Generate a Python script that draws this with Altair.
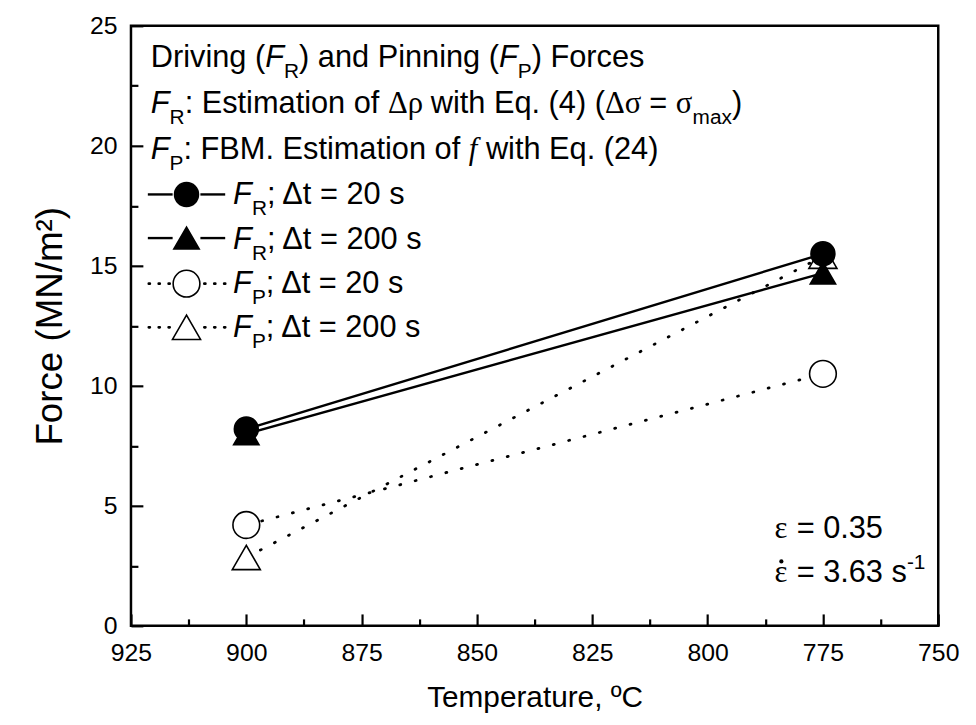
import altair as alt
import pandas as pd

# ---------------- data ----------------
temperature = [900, 775]
series_names = ["FR20", "FR200", "FP20", "FP200"]
force_fr_20 = [8.2, 15.5]
force_fr_200 = [8.0, 14.7]
force_fp_20 = [4.2, 10.5]
force_fp_200 = [2.85, 15.4]

x_major_ticks = [925, 900, 875, 850, 825, 800, 775, 750]
x_minor_ticks = [912.5, 887.5, 862.5, 837.5, 812.5, 787.5, 762.5]
y_major_ticks = [0, 5, 10, 15, 20, 25]
y_minor_ticks = [2.5, 7.5, 12.5, 17.5, 22.5]

x_title = "Temperature, ºC"
y_title = "Force (MN/m²)"

# text pieces: (text, style)
header_1 = [("Driving (", "n"), ("F", "i"), ("R", "sub"), (") and Pinning (", "n"),
            ("F", "i"), ("P", "sub"), (") Forces", "n")]
header_2 = [("F", "i"), ("R", "sub"), (": Estimation of ", "n"), ("Δρ", "g"),
            (" with Eq. (4) (", "n"), ("Δσ", "g"), (" = ", "n"), ("σ", "g"),
            ("max", "sub"), (")", "n")]
header_3 = [("F", "i"), ("P", "sub"), (": FBM. Estimation of ", "n"), ("f", "gi"),
            (" with Eq. (24)", "n")]
legend_rows = [
    [("F", "i"), ("R", "sub"), ("; Δt = 20 s", "n")],
    [("F", "i"), ("R", "sub"), ("; Δt = 200 s", "n")],
    [("F", "i"), ("P", "sub"), ("; Δt = 20 s", "n")],
    [("F", "i"), ("P", "sub"), ("; Δt = 200 s", "n")],
]
annot_1 = [("ε", "g"), (" = 0.35", "n")]
annot_2 = [("ε", "gdot"), (" = 3.63 s", "n"), ("-1", "sup")]

# ---------------- layout ----------------
W, H = 814, 605
SANS = "Liberation Sans, Arial, sans-serif"
SERIF = "Liberation Serif, Times New Roman, serif"
NARROW = "Liberation Sans Narrow, Arial Narrow, Liberation Sans, sans-serif"

MAIN = 31
SMALL = 21

SANS_W = {' ': .278, '(': .333, ')': .333, '.': .278, ':': .278, ';': .278, '=': .584,
          '-': .333, 'A': .667, 'B': .667, 'C': .722, 'D': .722, 'E': .667, 'F': .611,
          'M': .833, 'N': .722, 'P': .667, 'R': .722, 'a': .556, 'c': .5, 'd': .556,
          'e': .556, 'f': .278, 'g': .556, 'h': .556, 'i': .222, 'm': .833, 'n': .556,
          'o': .556, 'q': .556, 'r': .333, 's': .5, 't': .278, 'v': .5, 'w': .722,
          'x': .5, 'Δ': .668, 'ρ': .577, 'σ': .617, 'ε': .5}
SERIF_W = {'Δ': .612, 'ρ': .5, 'σ': .549, 'ε': .439, 'f': .278, ' ': .25}
for d in "0123456789":
    SANS_W[d] = .556

STYLE = {
    "n": ("sans", MAIN, 0),
    "i": ("sansi", MAIN, 0),
    "sub": ("sans", SMALL, 11),
    "sup": ("sans", SMALL, -13),
    "g": ("serif", MAIN, 0),
    "gdot": ("serif", MAIN, 0),
    "gi": ("serifi", MAIN, 0),
}

dot_rows = []


def text_width(s, fam, size):
    table = SERIF_W if fam.startswith("serif") else SANS_W
    return sum(table.get(c, .556) for c in s) * size


def place(pieces, x0, y0):
    out = []
    x = x0
    for txt, st in pieces:
        fam, size, dy = STYLE[st]
        lead = len(txt) - len(txt.lstrip(" "))
        xs = x + text_width(" " * lead, fam, size)
        out.append({"px": xs, "py": y0 + dy, "text": txt.strip(" "), "size": size, "fam": fam})
        w = text_width(txt, fam, size)
        if st == "gdot":
            # dot above the epsilon (strain rate)
            dot_rows.append({"px": xs + w / 2, "py": y0 - 21})
        x += w
    return out


text_rows = []
text_rows += place(header_1, 20, 42)
text_rows += place(header_2, 20, 88)
text_rows += place(header_3, 20, 134)
leg_base = [180, 225, 269, 314]
for row, yb in zip(legend_rows, leg_base):
    text_rows += place(row, 103, yb)
text_rows += place(annot_1, 649, 516)
text_rows += place(annot_2, 649, 561)
text_df = pd.DataFrame(text_rows)
dot_df = pd.DataFrame(dot_rows)

# ---------------- data table ----------------
rows = []
for name, vals in zip(series_names, [force_fr_20, force_fr_200, force_fp_20, force_fp_200]):
    for t, v in zip(temperature, vals):
        rows.append({"T": t, "F": v, "series": name})
df = pd.DataFrame(rows)
draw_order = ["FP200", "FP20", "FR200", "FR20"]
df_markers = pd.concat([df[df.series == s] for s in draw_order])

shape_scale = alt.Scale(domain=series_names, range=["circle", "triangle-up", "circle", "triangle-up"])
fill_scale = alt.Scale(domain=series_names, range=["black", "black", "white", "white"])
size_scale = alt.Scale(domain=series_names, range=[265, 400, 215, 400])
halo_scale = alt.Scale(domain=series_names, range=[580, 800, 510, 800])
leg_size_scale = alt.Scale(domain=series_names, range=[240, 355, 195, 355])

xs = alt.Scale(domain=[750, 925], reverse=True, nice=False, zero=False)
ys = alt.Scale(domain=[0, 25], nice=False, zero=True)

x_label_axis = alt.Axis(orient="bottom", values=x_major_ticks, format="d", labelFont=NARROW,
                        labelFontSize=25, labelColor="black", labelPadding=15, labelFlush=False,
                        labelOverlap=False, ticks=False, tickSize=0, domain=False, grid=False,
                        title=x_title, titleFont=NARROW, titleFontSize=30,
                        titleFontWeight="normal", titleColor="black", titlePadding=17)
y_label_axis = alt.Axis(orient="left", values=y_major_ticks, format="d", labelFont=SANS,
                        labelFontSize=25, labelColor="black", labelPadding=14, labelFlush=False,
                        labelOverlap=False, ticks=False, tickSize=0, domain=False, grid=False,
                        title=y_title, titleFont=SANS, titleFontSize=37,
                        titleFontWeight="normal", titleColor="black", titlePadding=20)


def tick_axis(orient, offset, values, size):
    return alt.Axis(orient=orient, offset=offset, values=values, labels=False, domain=False,
                    grid=False, ticks=True, tickSize=size, tickWidth=2.2, tickColor="black",
                    title=None)


solid = alt.Chart(df[df.series.isin(["FR20", "FR200"])]).mark_line(
    color="black", strokeWidth=2.4
).encode(
    x=alt.X("T:Q", scale=xs, axis=x_label_axis),
    y=alt.Y("F:Q", scale=ys, axis=y_label_axis),
    detail="series:N",
)

dotted = alt.Chart(df[df.series.isin(["FP20", "FP200"])]).mark_line(
    color="black", strokeWidth=2.8, strokeDash=[1, 15], strokeCap="round"
).encode(
    x=alt.X("T:Q", scale=xs, axis=None),
    y=alt.Y("F:Q", scale=ys, axis=None),
    detail="series:N",
)

halos = alt.Chart(df).mark_point(filled=True, opacity=1, strokeWidth=0).encode(
    x=alt.X("T:Q", scale=xs, axis=tick_axis("top", -H, x_major_ticks, 12)),
    y=alt.Y("F:Q", scale=ys, axis=tick_axis("right", -W, y_major_ticks, 12)),
    shape=alt.Shape("series:N", scale=shape_scale, legend=None),
    size=alt.Size("series:N", scale=halo_scale, legend=None),
    fill=alt.value("white"),
)

markers = alt.Chart(df_markers).mark_point(
    filled=True, opacity=1, stroke="black", strokeWidth=1.6
).encode(
    x=alt.X("T:Q", scale=xs, axis=tick_axis("top", -H, x_minor_ticks, 7)),
    y=alt.Y("F:Q", scale=ys, axis=tick_axis("right", -W, y_minor_ticks, 7)),
    shape=alt.Shape("series:N", scale=shape_scale, legend=None),
    size=alt.Size("series:N", scale=size_scale, legend=None),
    fill=alt.Fill("series:N", scale=fill_scale, legend=None),
)

# ---------------- legend (drawn in pixel space) ----------------
leg_sym_y = [170, 214, 260, 304]
leg_sym = pd.DataFrame({"px": [56] * 4, "py": leg_sym_y, "series": series_names})
leg_solid = pd.DataFrame({"px": [17, 70, 17, 70], "px2": [42, 95, 42, 95],
                          "py": [170, 170, 214, 214]})
leg_dot = pd.DataFrame({"px": [18, 74, 18, 74], "px2": [40, 96, 40, 96],
                        "py": [260, 260, 304, 304]})

leg_solid_layer = alt.Chart(leg_solid).mark_rule(color="black", strokeWidth=2.4).encode(
    x=alt.X("px:Q", scale=None, axis=None), x2="px2:Q", y=alt.Y("py:Q", scale=None, axis=None))
leg_dot_layer = alt.Chart(leg_dot).mark_rule(
    color="black", strokeWidth=2.8, strokeDash=[1, 9], strokeCap="round").encode(
    x=alt.X("px:Q", scale=None, axis=None), x2="px2:Q", y=alt.Y("py:Q", scale=None, axis=None))
leg_sym_layer = alt.Chart(leg_sym).mark_point(
    filled=True, opacity=1, stroke="black", strokeWidth=1.6).encode(
    x=alt.X("px:Q", scale=None, axis=None),
    y=alt.Y("py:Q", scale=None, axis=None),
    shape=alt.Shape("series:N", scale=shape_scale, legend=None),
    size=alt.Size("series:N", scale=leg_size_scale, legend=None),
    fill=alt.Fill("series:N", scale=fill_scale, legend=None),
)

dot_layer = alt.Chart(dot_df).mark_point(
    shape="circle", filled=True, opacity=1, color="black", size=18
).encode(
    x=alt.X("px:Q", scale=None, axis=None),
    y=alt.Y("py:Q", scale=None, axis=None),
)


def text_layer(fam, font, style, weight="normal"):
    sub = text_df[text_df.fam == fam]
    return alt.Chart(sub).mark_text(
        align="left", baseline="alphabetic", font=font, fontStyle=style,
        fontWeight=weight, color="black"
    ).encode(
        x=alt.X("px:Q", scale=None, axis=None),
        y=alt.Y("py:Q", scale=None, axis=None),
        text="text:N",
        size=alt.Size("size:Q", scale=None, legend=None),
    )


texts = [
    text_layer("sans", SANS, "normal"),
    text_layer("sansi", SANS, "italic"),
    text_layer("serif", SERIF, "normal"),
    text_layer("serifi", SERIF, "italic"),
]

chart = alt.layer(
    solid, dotted, halos, markers, leg_solid_layer, leg_dot_layer, leg_sym_layer,
    dot_layer, *texts
).resolve_axis(
    x="independent", y="independent"
).properties(
    width=W, height=H,
    autosize=alt.AutoSizeParams(type="none"),
    padding={"left": 124, "top": 15, "right": 30, "bottom": 97},
).configure_view(
    stroke="black", strokeWidth=2.5
)

chart.save("out.html", embed_options={"renderer": "svg", "actions": False})
